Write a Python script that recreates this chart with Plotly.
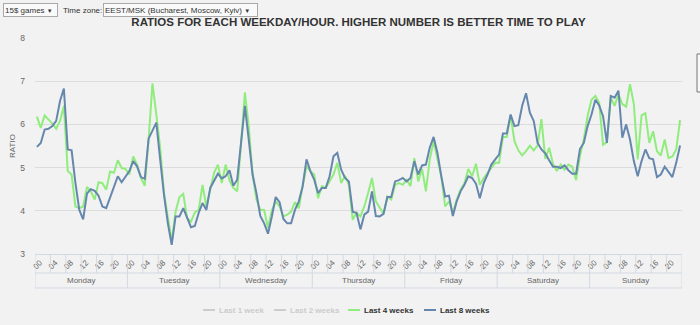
import plotly.graph_objects as go

days = ["Monday", "Tuesday", "Wednesday", "Thursday", "Friday", "Saturday", "Sunday"]
hour_labels = ["00", "04", "08", "12", "16", "20"]
series_names = ["Last 1 week", "Last 2 weeks", "Last 4 weeks", "Last 8 weeks"]

# Last 4 weeks (green), 24 hourly values per day
last4 = [
    6.18, 5.92, 6.21, 6.12, 6.02, 5.90, 6.08, 6.43, 4.92, 4.84, 4.10, 4.06, 4.10, 4.55, 4.45, 4.26, 4.66, 4.64, 4.49, 4.91, 4.88, 5.17, 4.99, 4.97,
    4.84, 5.26, 5.07, 4.76, 4.58, 5.65, 6.95, 6.23, 5.46, 4.41, 3.87, 3.29, 3.98, 4.32, 4.39, 3.83, 3.75, 3.96, 4.02, 4.60, 4.10, 4.49, 4.88, 5.07,
    4.64, 5.07, 4.70, 4.53, 4.45, 5.55, 6.74, 5.96, 4.84, 4.26, 4.02, 4.02, 3.60, 4.02, 4.22, 4.10, 3.87, 3.91, 3.98, 4.20, 4.06, 4.57, 5.03, 4.92,
    4.84, 4.29, 4.57, 4.53, 4.68, 4.84, 5.11, 4.64, 4.81, 4.60, 3.79, 3.96, 3.87, 4.10, 4.41, 4.76, 4.22, 4.06, 3.93, 4.33, 4.26, 4.60, 4.64, 4.60,
    4.72, 4.57, 5.22, 4.68, 4.97, 4.45, 5.19, 5.61, 5.19, 4.80, 4.10, 4.22, 3.95, 4.26, 4.49, 4.64, 4.97, 4.80, 5.09, 4.60, 4.76, 4.88, 4.99, 5.11,
    5.11, 5.71, 5.71, 6.20, 5.61, 5.40, 5.28, 5.38, 5.51, 5.40, 5.51, 6.12, 5.20, 5.46, 5.09, 4.92, 5.07, 4.95, 5.07, 5.02, 4.71, 5.26, 5.65, 6.20,
    6.57, 6.66, 6.50, 5.53, 5.59, 6.62, 6.43, 6.70, 6.47, 6.41, 6.93, 6.47, 5.19, 6.21, 6.26, 5.57, 5.84, 5.38, 5.28, 5.65, 5.22, 5.26, 5.42, 6.10,
]

# Last 8 weeks (blue)
last8 = [
    5.48, 5.57, 5.88, 5.90, 5.96, 6.08, 6.54, 6.83, 5.42, 5.40, 4.64, 4.02, 3.80, 4.40, 4.50, 4.46, 4.35, 4.10, 4.06, 4.30, 4.55, 4.80, 4.66, 4.80,
    4.92, 5.15, 5.03, 4.78, 4.74, 5.67, 5.87, 6.04, 5.19, 4.37, 3.71, 3.21, 3.87, 3.87, 4.06, 3.83, 3.62, 3.65, 3.95, 4.18, 4.02, 4.53, 4.71, 4.86,
    4.75, 4.80, 4.94, 4.58, 4.72, 5.50, 6.43, 5.65, 4.84, 4.41, 3.88, 3.71, 3.47, 3.87, 4.32, 4.20, 3.81, 3.71, 3.71, 4.02, 4.22, 4.57, 5.19, 4.92,
    4.72, 4.41, 4.53, 4.53, 4.80, 5.26, 5.34, 4.95, 4.76, 4.68, 3.98, 3.95, 3.57, 3.91, 3.98, 4.45, 3.88, 3.87, 3.93, 4.32, 4.32, 4.68, 4.71, 4.76,
    4.68, 4.76, 5.15, 4.84, 5.05, 5.07, 5.46, 5.71, 5.34, 4.80, 4.33, 4.35, 3.88, 4.22, 4.45, 4.60, 4.80, 4.76, 4.63, 4.29, 4.64, 4.84, 5.07, 5.19,
    5.30, 5.79, 5.79, 6.23, 5.96, 5.98, 6.43, 6.72, 6.27, 6.08, 5.57, 5.42, 5.33, 5.17, 5.02, 5.02, 4.99, 5.05, 4.94, 4.86, 4.86, 5.43, 5.57, 5.96,
    6.23, 6.57, 6.44, 6.19, 5.57, 6.66, 6.62, 6.78, 5.69, 6.00, 5.65, 5.15, 4.80, 5.15, 5.42, 5.22, 5.19, 4.78, 4.84, 5.02, 4.91, 4.78, 5.11, 5.51,
]

# hidden series (switched off in the legend, no values drawn)
last1 = [None]
last2 = [None]

n = len(days) * 24
xs = list(range(n))

FONT = "Liberation Sans, Arial, sans-serif"
GRID = "#dcdcdc"
AXC = "#d3d9e3"
HIDDEN = "#cccccc"
colors = [HIDDEN, HIDDEN, "#90ed7d", "#6687ad"]
visible = [False, False, True, True]
values = [last1, last2, last4, last8]

fig = go.Figure()
for name, vals, col, vis in zip(series_names, values, colors, visible):
    fig.add_trace(go.Scatter(x=xs[:len(vals)] if vis else [None] * len(vals), y=vals, mode="lines",
                             line=dict(color=col, width=2), name=name, showlegend=False))

tickvals = [d * 24 + h * 4 for d in range(len(days)) for h in range(len(hour_labels))]
ticktext = [hour_labels[h] for d in range(len(days)) for h in range(len(hour_labels))]

shapes = []
for k in range(0, n + 1, 4):
    shapes.append(dict(type="line", xref="x", yref="paper", ysizemode="pixel", yanchor=0,
                       x0=k - 0.5, x1=k - 0.5, y0=-34 if k % 24 == 0 else -19, y1=0,
                       line=dict(color=AXC, width=1)))
for yy in (-19, -34):
    shapes.append(dict(type="line", xref="x", yref="paper", ysizemode="pixel", yanchor=0,
                       x0=-0.5, x1=n - 0.5, y0=yy, y1=yy, line=dict(color=AXC, width=1)))

annotations = []
for d, name in enumerate(days):
    annotations.append(dict(x=d * 24 + 11.5, xref="x", y=0, yref="paper", yanchor="middle",
                            yshift=-26.5, text=name, showarrow=False,
                            font=dict(family=FONT, size=8, color="#666666")))

W, L, T, H = 647, 35, 38, 216
def px(x):
    return (x - L) / W
def py(y):
    return (T + H - y) / H

TOPF = dict(family=FONT, size=8, color="#333333")
annotations += [
    dict(x=0, xref="paper", xanchor="center", xshift=-23, y=0.5, yref="paper", yanchor="middle",
         text="RATIO", textangle=-90, showarrow=False,
         font=dict(family=FONT, size=8, color="#666666")),
    dict(x=px(3), xref="paper", xanchor="left", y=py(10), yref="paper", yanchor="middle",
         text='15$ games <span style="font-size:6px">▼</span>', showarrow=False,
         width=51, height=10, align="left",
         bordercolor="#a9a9a9", borderwidth=1, borderpad=1, bgcolor="#fafafa", font=TOPF),
    dict(x=px(61), xref="paper", xanchor="left", y=py(10), yref="paper", yanchor="middle",
         text="Time zone:", showarrow=False, font=TOPF),
    dict(x=px(103), xref="paper", xanchor="left", y=py(10), yref="paper", yanchor="middle",
         text='EEST/MSK (Bucharest, Moscow, Kyiv) <span style="font-size:6px">▼</span>', showarrow=False,
         width=151, height=10, align="left",
         bordercolor="#a9a9a9", borderwidth=1, borderpad=1, bgcolor="#fafafa", font=TOPF),
]

# partially visible export/menu button at the right edge
shapes.append(dict(type="rect", xref="paper", yref="paper", x0=px(697), x1=px(712),
                   y0=py(92), y1=py(54), line=dict(color="#777777", width=1), fillcolor="#f8f8f8"))

# legend (Highcharts style: short line + bold label; hidden series greyed)
legend_left = [203, 274, 348, 424]
LEG_Y = py(310)
for name, col, vis, lx in zip(series_names, colors, visible, legend_left):
    shapes.append(dict(type="line", xref="paper", yref="paper", x0=px(lx), x1=px(lx + 12),
                       y0=LEG_Y, y1=LEG_Y, line=dict(color=col, width=2)))
    annotations.append(dict(x=px(lx + 14), xref="paper", xanchor="left", y=LEG_Y, yref="paper",
                            yanchor="middle", text="<b>%s</b>" % name, showarrow=False,
                            font=dict(family=FONT, size=8, color="#333333" if vis else HIDDEN)))

fig.update_layout(
    width=700, height=325,
    margin=dict(l=L, r=700 - L - W, t=T, b=325 - T - H, autoexpand=False),
    paper_bgcolor="#f2f2f2", plot_bgcolor="#f2f2f2",
    title=dict(text="<b>RATIOS FOR EACH WEEKDAY/HOUR. HIGHER NUMBER IS BETTER TIME TO PLAY</b>",
               x=0.5, xref="paper", xanchor="center", y=1 - 22 / 325, yref="container", yanchor="middle",
               font=dict(family=FONT, size=11.5, color="#333333")),
    xaxis=dict(range=[-0.5, n - 0.5], tickvals=tickvals, ticktext=ticktext, tickangle=-45,
               showgrid=False, zeroline=False, showline=True, linecolor=AXC, ticks="",
               tickfont=dict(family=FONT, size=8, color="#666666"), ticklabelshift=3),
    yaxis=dict(range=[3, 8], dtick=1, showgrid=True, gridcolor=GRID, zeroline=False,
               ticks="", ticklabelstandoff=9,
               tickfont=dict(family=FONT, size=8.5, color="#666666")),
    shapes=shapes, annotations=annotations, showlegend=False,
)

fig.write_html("out.html")
